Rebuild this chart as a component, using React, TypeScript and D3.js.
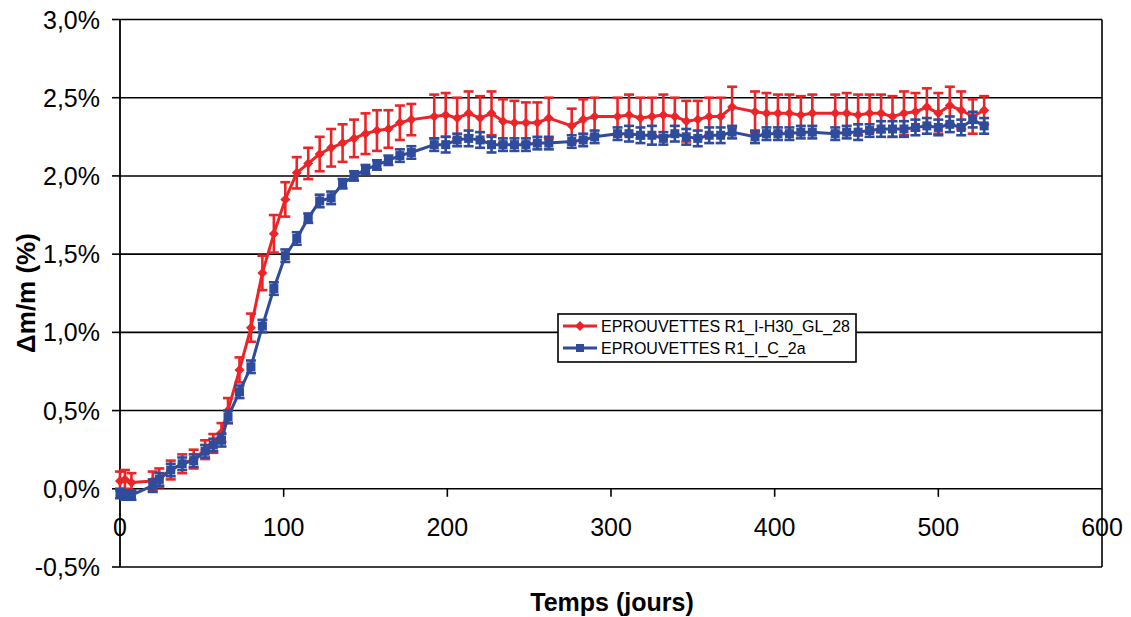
import React from "react";
import * as d3 from "d3";

const days = [0, 3, 7, 20, 24, 31, 38, 45, 52, 57, 62, 66, 73, 80, 87, 94, 101, 108, 115, 122, 129, 136, 143, 150, 157, 164, 171, 178,
  192, 199, 206, 213, 220, 227, 234, 241, 248, 255, 262, 276, 283, 290,
  304, 311, 318, 325, 332, 339, 346, 353, 360, 367, 374,
  388, 395, 402, 409, 416, 423,
  437, 444, 451, 458, 465, 472, 479, 486, 493, 500, 507, 514, 521, 528];

const redValues = [0.05, 0.06, 0.04, 0.05, 0.07, 0.12, 0.16, 0.19, 0.25, 0.29, 0.36, 0.50, 0.76, 1.03, 1.38, 1.63, 1.85, 2.02, 2.08, 2.14, 2.18, 2.21, 2.24, 2.27, 2.29, 2.30, 2.34, 2.36,
  2.38, 2.39, 2.37, 2.40, 2.37, 2.40, 2.35, 2.34, 2.34, 2.34, 2.37, 2.32, 2.36, 2.38,
  2.38, 2.39, 2.37, 2.38, 2.39, 2.38, 2.35, 2.36, 2.38, 2.38, 2.44,
  2.41, 2.40, 2.40, 2.40, 2.39, 2.40,
  2.40, 2.40, 2.39, 2.40, 2.40, 2.38, 2.40, 2.41, 2.44, 2.40, 2.45, 2.42, 2.38, 2.42];

const redErrors = [0.06, 0.06, 0.06, 0.06, 0.06, 0.06, 0.06, 0.06, 0.06, 0.06, 0.06, 0.08, 0.08, 0.09, 0.11, 0.12, 0.11, 0.10, 0.10, 0.11, 0.12, 0.12, 0.12, 0.13, 0.13, 0.12, 0.11, 0.10,
  0.14, 0.14, 0.13, 0.14, 0.14, 0.14, 0.14, 0.14, 0.13, 0.13, 0.13, 0.11, 0.13, 0.12,
  0.12, 0.13, 0.13, 0.12, 0.13, 0.12, 0.13, 0.12, 0.12, 0.12, 0.13,
  0.13, 0.13, 0.12, 0.12, 0.12, 0.12,
  0.12, 0.13, 0.13, 0.12, 0.12, 0.13, 0.14, 0.12, 0.12, 0.13, 0.12, 0.12, 0.11, 0.09];

const blueValues = [-0.03, -0.04, -0.04, 0.02, 0.06, 0.12, 0.16, 0.18, 0.24, 0.28, 0.31, 0.46, 0.62, 0.78, 1.04, 1.28, 1.49, 1.60, 1.73, 1.84, 1.86, 1.95, 2.00, 2.04, 2.07, 2.10, 2.13, 2.15,
  2.20, 2.20, 2.23, 2.24, 2.23, 2.20, 2.20, 2.20, 2.20, 2.21, 2.21, 2.22, 2.23, 2.25,
  2.27, 2.27, 2.26, 2.26, 2.24, 2.27, 2.25, 2.24, 2.26, 2.26, 2.28,
  2.25, 2.27, 2.27, 2.27, 2.28, 2.28,
  2.27, 2.28, 2.28, 2.29, 2.30, 2.30, 2.30, 2.31, 2.32, 2.31, 2.33, 2.31, 2.36, 2.32];

const blueErrors = [0.03, 0.03, 0.03, 0.04, 0.04, 0.04, 0.04, 0.04, 0.04, 0.04, 0.04, 0.04, 0.04, 0.04, 0.04, 0.04, 0.04, 0.04, 0.03, 0.04, 0.04, 0.03, 0.03, 0.03, 0.03, 0.03, 0.04, 0.04,
  0.04, 0.05, 0.04, 0.05, 0.05, 0.05, 0.04, 0.04, 0.04, 0.04, 0.04, 0.04, 0.04, 0.04,
  0.04, 0.05, 0.05, 0.06, 0.04, 0.05, 0.05, 0.05, 0.05, 0.05, 0.04,
  0.04, 0.04, 0.04, 0.04, 0.04, 0.04,
  0.04, 0.04, 0.05, 0.04, 0.05, 0.05, 0.05, 0.05, 0.05, 0.05, 0.05, 0.05, 0.05, 0.05];

const xTicks = [0, 100, 200, 300, 400, 500, 600];
const yTicks = [-0.5, 0, 0.5, 1.0, 1.5, 2.0, 2.5, 3.0];
const seriesNames = ["EPROUVETTES R1_I-H30_GL_28", "EPROUVETTES R1_I_C_2a"];

const RED = "#ec2428";
const BLUE = "#2f4c9c";
const FONT = "'Liberation Sans', Arial, sans-serif";

export default function App() {
  const x = d3.scaleLinear().domain([0, 600]).range([120, 1102]);
  const y = d3.scaleLinear().domain([-0.5, 3.0]).range([567, 19.5]);
  const fmt = (v: number) => v.toFixed(1).replace(".", ",") + "%";

  const line = d3
    .line<number>()
    .x((_, i) => x(days[i]))
    .y((v) => y(v));

  const errBars = (vals: number[], errs: number[], color: string, cap: number) =>
    vals.map((v, i) => {
      const cx = x(days[i]);
      const y1 = y(v + errs[i]);
      const y2 = y(v - errs[i]);
      return (
        <g key={i} stroke={color} strokeWidth={2.6}>
          <line x1={cx} x2={cx} y1={y1} y2={y2} />
          <line x1={cx - cap} x2={cx + cap} y1={y1} y2={y1} />
          <line x1={cx - cap} x2={cx + cap} y1={y2} y2={y2} />
        </g>
      );
    });

  const diamond = (cx: number, cy: number, r: number, key?: any) => (
    <path key={key} d={`M${cx},${cy - r}L${cx + r},${cy}L${cx},${cy + r}L${cx - r},${cy}Z`} fill={RED} />
  );
  const square = (cx: number, cy: number, s: number, key?: any) => (
    <rect key={key} x={cx - s / 2} y={cy - s / 2} width={s} height={s} fill={BLUE} />
  );

  return (
    <svg width={1131} height={617} style={{ position: "absolute", left: 0, top: 0, background: "#fff" }} fontFamily={FONT}>
      <rect x={0} y={0} width={1131} height={617} fill="#fff" />
      {yTicks.map((t) => (
        <line key={t} x1={x(0)} x2={x(600)} y1={y(t)} y2={y(t)} stroke="#000" strokeWidth={1.6} />
      ))}
      <line x1={x(600)} x2={x(600)} y1={y(3.0)} y2={y(-0.5)} stroke="#000" strokeWidth={1.6} />
      <line x1={x(0)} x2={x(0)} y1={y(3.0)} y2={y(-0.5)} stroke="#000" strokeWidth={1.8} />
      {yTicks.map((t) => (
        <line key={"yt" + t} x1={x(0) - 8} x2={x(0)} y1={y(t)} y2={y(t)} stroke="#000" strokeWidth={1.6} />
      ))}
      {yTicks.map((t) => (
        <text key={"yl" + t} x={100} y={y(t)} dy="0.36em" textAnchor="end" fontSize={25} fill="#000">
          {fmt(t)}
        </text>
      ))}
      {xTicks.slice(1, -1).map((t) => (
        <line key={"xt" + t} x1={x(t)} x2={x(t)} y1={y(0)} y2={y(0) + 8} stroke="#000" strokeWidth={1.6} />
      ))}
      {xTicks.map((t) => (
        <text key={"xl" + t} x={x(t)} y={536} textAnchor="middle" fontSize={25} fill="#000">
          {t}
        </text>
      ))}
      <text x={612} y={611} textAnchor="middle" fontSize={25} fontWeight="bold" fill="#000">
        Temps (jours)
      </text>
      <text transform="translate(35,293) rotate(-90)" textAnchor="middle" fontSize={26} fontWeight="bold" fill="#000">
        Δm/m (%)
      </text>

      {errBars(redValues, redErrors, RED, 5)}
      <path d={line(redValues) || ""} fill="none" stroke={RED} strokeWidth={3} strokeLinejoin="round" />
      {redValues.map((v, i) => diamond(x(days[i]), y(v), 5, "rd" + i))}

      {errBars(blueValues, blueErrors, BLUE, 5)}
      <path d={line(blueValues) || ""} fill="none" stroke={BLUE} strokeWidth={3} strokeLinejoin="round" />
      {blueValues.map((v, i) => square(x(days[i]), y(v), 9, "bs" + i))}

      <rect x={558} y={314} width={298} height={48} fill="#fff" stroke="#000" strokeWidth={1.6} />
      <line x1={563} x2={597} y1={326} y2={326} stroke={RED} strokeWidth={3} />
      {diamond(580, 326, 5)}
      <text x={601} y={326} dy="0.36em" fontSize={16} fill="#000">
        {seriesNames[0]}
      </text>
      <line x1={563} x2={597} y1={348} y2={348} stroke={BLUE} strokeWidth={3} />
      {square(580, 348, 8)}
      <text x={601} y={348} dy="0.36em" fontSize={16} fill="#000">
        {seriesNames[1]}
      </text>
    </svg>
  );
}
